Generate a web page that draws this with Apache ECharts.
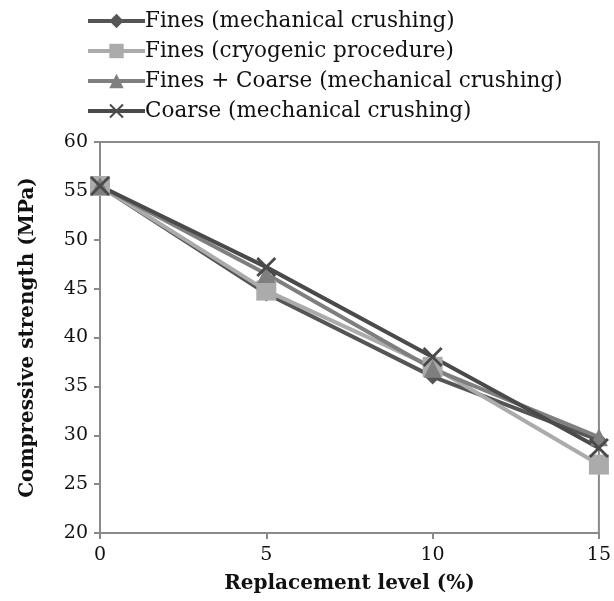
<!DOCTYPE html>
<html>
<head>
<meta charset="utf-8">
<script src="https://cdn.jsdelivr.net/npm/echarts@6/dist/echarts.min.js"></script>
<style>
  html, body { margin: 0; padding: 0; background: #fff; }
  #main { width: 614px; height: 601px; }
</style>
</head>
<body>
<div id="main"></div>
<script>
// replacement level (%)
const levels = [0, 5, 10, 15];
const finesMech = [55.5, 44.5, 36.0, 29.5];
const finesCryo = [55.5, 44.8, 37.0, 27.0];
const finesCoarse = [55.5, 46.5, 36.8, 29.8];
const coarseMech = [55.5, 47.2, 38.0, 28.7];

const names = [
  'Fines (mechanical crushing)',
  'Fines (cryogenic procedure)',
  'Fines + Coarse (mechanical crushing)',
  'Coarse (mechanical crushing)'
];

const crossPath = 'path://M0,1 L1,0 L5,4 L9,0 L10,1 L6,5 L10,9 L9,10 L5,6 L1,10 L0,9 L4,5 Z';
const font = '"DejaVu Serif", "Liberation Serif", serif';

function pairs(vals) {
  return levels.map((x, i) => [x, vals[i]]);
}

function line(name, vals, color, symbol, size) {
  return {
    name: name,
    type: 'line',
    data: pairs(vals),
    symbol: symbol,
    symbolSize: size,
    lineStyle: { color: color, width: 4 },
    itemStyle: { color: color },
    emphasis: { disabled: true }
  };
}

let myChart = echarts.init(document.getElementById('main'));
myChart.setOption({
  animation: false,
  backgroundColor: '#fff',
  textStyle: { fontFamily: font },
  legend: {
    orient: 'vertical',
    left: 81,
    top: 5,
    itemGap: 8,
    itemWidth: 57,
    itemHeight: 18,
    lineStyle: { width: 4 },
    textStyle: { fontSize: 21.5, color: '#111', fontFamily: font, padding: [0, 0, 0, -5] },
    data: names
  },
  grid: {
    left: 100, right: 14, top: 142, bottom: 68,
    show: true, borderColor: '#8a8a8a', borderWidth: 2
  },
  xAxis: {
    type: 'value',
    min: 0, max: 15, interval: 5,
    name: 'Replacement level (%)',
    nameLocation: 'middle',
    nameGap: 41,
    nameTextStyle: { fontSize: 20, fontWeight: 'bold', color: '#111', fontFamily: font },
    axisLine: { show: true, lineStyle: { color: '#8a8a8a', width: 2 } },
    axisTick: { show: true, length: 6, lineStyle: { color: '#8a8a8a', width: 2 } },
    axisLabel: { fontSize: 19, color: '#111', margin: 13, fontFamily: font },
    splitLine: { show: false }
  },
  yAxis: {
    type: 'value',
    min: 20, max: 60, interval: 5,
    name: 'Compressive strength (MPa)',
    nameLocation: 'middle',
    nameGap: 62,
    nameTextStyle: { fontSize: 20, fontWeight: 'bold', color: '#111', fontFamily: font },
    axisLine: { show: true, lineStyle: { color: '#8a8a8a', width: 2 } },
    axisTick: { show: true, length: 6, lineStyle: { color: '#8a8a8a', width: 2 } },
    axisLabel: { fontSize: 19, color: '#111', margin: 12, fontFamily: font },
    splitLine: { show: false }
  },
  series: [
    line(names[0], finesMech, '#555555', 'diamond', 16),
    line(names[1], finesCryo, '#ababab', 'rect', 20),
    line(names[2], finesCoarse, '#7f7f7f', 'triangle', 18),
    line(names[3], coarseMech, '#4a4a4a', crossPath, 20)
  ]
});
window.onresize = function () {
  myChart.resize();
};
</script>
</body>
</html>
